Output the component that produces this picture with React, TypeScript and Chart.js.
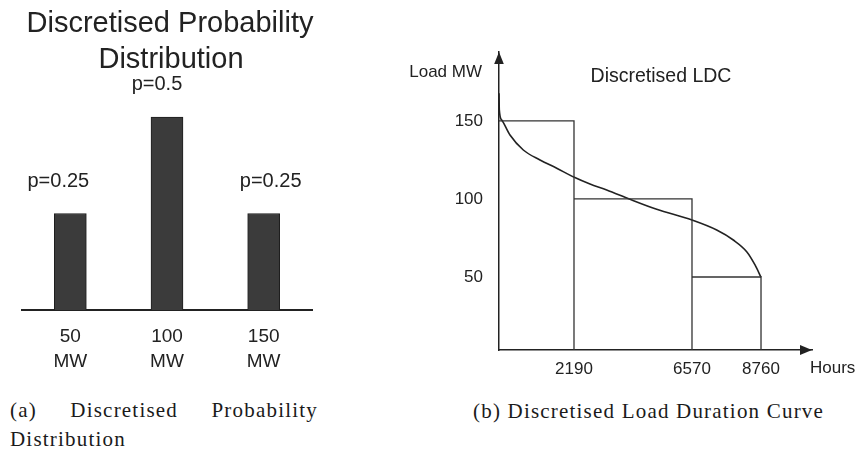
import React, { useEffect, useRef } from 'react';
import { Chart, registerables, LinearScale } from 'chart.js';

// ---------- data: (a) discretised probability distribution ----------
const PROB_CATEGORIES = [['50', 'MW'], ['100', 'MW'], ['150', 'MW']];
const PROB_VALUES = [0.25, 0.5, 0.25];
const PROB_LABELS = ['p=0.25', 'p=0.5', 'p=0.25'];

// ---------- data: (b) discretised load duration curve ----------
const STEP_HOURS = [0, 2190, 6570, 8760];
const STEP_LOADS = [150, 100, 50];
const CURVE_HOURS = [0, 9, 79, 321, 710, 1197, 1685, 2201, 2784, 3404, 4269, 5260, 6570, 7354, 7881, 8306, 8570, 8760];
const CURVE_LOADS = [167.8, 157.1, 150.6, 141.0, 131.4, 125.0, 119.7, 113.9, 109.6, 105.8, 99.8, 93.4, 86.5, 80.1, 73.7, 66.2, 57.7, 49.8];
const HOUR_TICKS = [2190, 6570, 8760];
const LOAD_TICKS = [50, 100, 150];

// the hours axis of the sketch is not drawn to scale: piecewise mapping hours -> axis fraction
const AXIS_HOURS = [0, 2190, 6570, 8760, 10400];
const AXIS_FRACTIONS = [0, 0.2396, 0.6166, 0.8371, 1];

function hoursToFraction(h: number): number {
  const n = AXIS_HOURS.length;
  for (let i = 1; i < n; i++) {
    if (h <= AXIS_HOURS[i] || i === n - 1) {
      const t = (h - AXIS_HOURS[i - 1]) / (AXIS_HOURS[i] - AXIS_HOURS[i - 1]);
      return AXIS_FRACTIONS[i - 1] + t * (AXIS_FRACTIONS[i] - AXIS_FRACTIONS[i - 1]);
    }
  }
  return 0;
}
function fractionToHours(f: number): number {
  const n = AXIS_FRACTIONS.length;
  for (let i = 1; i < n; i++) {
    if (f <= AXIS_FRACTIONS[i] || i === n - 1) {
      const t = (f - AXIS_FRACTIONS[i - 1]) / (AXIS_FRACTIONS[i] - AXIS_FRACTIONS[i - 1]);
      return AXIS_HOURS[i - 1] + t * (AXIS_HOURS[i] - AXIS_HOURS[i - 1]);
    }
  }
  return 0;
}

class PiecewiseScale extends LinearScale {
  static id = 'piecewise';
  static defaults = (LinearScale as any).defaults;
  getPixelForValue(value: number) {
    if (value === null || value === undefined || isNaN(value)) return NaN;
    return this.getPixelForDecimal(hoursToFraction(value));
  }
  getValueForPixel(pixel: number) {
    return fractionToHours(this.getDecimalForPixel(pixel));
  }
}

Chart.register(...registerables, PiecewiseScale as any);

const SANS = '"Liberation Sans", Arial, Helvetica, sans-serif';
const INK = '#222222';
const LABEL_SHIFT = [-12, -10, 7];

const noScalePadding = (s: any) => {
  s.paddingTop = 0;
  s.paddingBottom = 0;
  s.paddingLeft = 0;
  s.paddingRight = 0;
};

const leftDecor = {
  id: 'leftDecor',
  afterDatasetsDraw(chart: any) {
    const ctx = chart.ctx as CanvasRenderingContext2D;
    ctx.save();
    ctx.fillStyle = INK;
    ctx.textAlign = 'center';
    ctx.textBaseline = 'alphabetic';
    ctx.font = `29px ${SANS}`;
    ctx.fillText('Discretised Probability', 170, 32);
    ctx.fillText('Distribution', 171, 68);
    ctx.font = `20px ${SANS}`;
    const meta = chart.getDatasetMeta(0);
    meta.data.forEach((bar: any, i: number) => {
      ctx.fillText(PROB_LABELS[i], bar.x + LABEL_SHIFT[i], bar.y - 27);
    });
    ctx.restore();
  },
};

const rightDecor = {
  id: 'rightDecor',
  afterDraw(chart: any) {
    const ctx = chart.ctx as CanvasRenderingContext2D;
    const a = chart.chartArea;
    ctx.save();
    ctx.fillStyle = INK;
    // arrow heads
    ctx.beginPath();
    ctx.moveTo(a.left, a.top);
    ctx.lineTo(a.left - 4.8, a.top + 12);
    ctx.lineTo(a.left + 4.8, a.top + 12);
    ctx.closePath();
    ctx.fill();
    ctx.beginPath();
    ctx.moveTo(a.right, a.bottom);
    ctx.lineTo(a.right - 12, a.bottom - 5);
    ctx.lineTo(a.right - 12, a.bottom + 5);
    ctx.closePath();
    ctx.fill();
    // texts
    ctx.textBaseline = 'alphabetic';
    ctx.font = `17px ${SANS}`;
    ctx.textAlign = 'right';
    ctx.fillText('Load MW', a.left - 17, a.top + 25);
    ctx.textAlign = 'left';
    ctx.fillText('Hours', a.right - 2, a.bottom + 23);
    ctx.textAlign = 'center';
    ctx.font = `19.5px ${SANS}`;
    ctx.fillText('Discretised LDC', a.left + 162, a.top + 30);
    ctx.restore();
  },
};

export default function App() {
  const leftRef = useRef<HTMLCanvasElement>(null);
  const rightRef = useRef<HTMLCanvasElement>(null);

  useEffect(() => {
    const left = new Chart(leftRef.current as HTMLCanvasElement, {
      type: 'bar',
      data: {
        labels: PROB_CATEGORIES,
        datasets: [
          {
            data: PROB_VALUES,
            backgroundColor: '#3b3b3b',
            borderColor: '#1e1e1e',
            borderWidth: 1,
            barThickness: 32,
          },
        ],
      },
      options: {
        responsive: false,
        animation: false,
        events: [],
        layout: { padding: { left: 22, right: 18, top: 80, bottom: 0 } },
        plugins: { legend: { display: false }, tooltip: { enabled: false }, title: { display: false } },
        scales: {
          x: {
            grid: { display: false, drawTicks: false },
            border: { display: true, color: INK, width: 2 },
            ticks: {
              color: INK,
              padding: 14,
              font: { family: SANS, size: 19, lineHeight: 1.32 },
              maxRotation: 0,
            },
            afterFit: (s: any) => {
              s.height = 70;
              noScalePadding(s);
            },
          },
          y: { display: false, min: 0, max: 0.596 },
        },
      },
      plugins: [leftDecor],
    } as any);

    const stepPath: { x: number; y: number }[] = [];
    for (let i = 0; i < STEP_LOADS.length; i++) {
      stepPath.push({ x: STEP_HOURS[i], y: STEP_LOADS[i] });
      stepPath.push({ x: STEP_HOURS[i + 1], y: STEP_LOADS[i] });
      stepPath.push({ x: STEP_HOURS[i + 1], y: 0 });
    }
    const curve = CURVE_HOURS.map((h, i) => ({ x: h, y: CURVE_LOADS[i] }));

    const right = new Chart(rightRef.current as HTMLCanvasElement, {
      type: 'line',
      data: {
        datasets: [
          {
            data: stepPath,
            borderColor: '#333333',
            borderWidth: 1.3,
            pointRadius: 0,
            tension: 0,
            fill: false,
          },
          {
            data: curve,
            borderColor: INK,
            borderWidth: 1.6,
            pointRadius: 0,
            cubicInterpolationMode: 'monotone',
            fill: false,
          },
        ],
      },
      options: {
        responsive: false,
        animation: false,
        events: [],
        layout: { padding: { left: 0, right: 46, top: 12, bottom: 0 } },
        plugins: { legend: { display: false }, tooltip: { enabled: false } },
        scales: {
          x: {
            type: 'piecewise',
            min: 0,
            max: 10400,
            bounds: 'data',
            grid: { display: false, drawTicks: false },
            border: { display: true, color: INK, width: 1.5 },
            afterBuildTicks: (s: any) => {
              s.ticks = HOUR_TICKS.map((v) => ({ value: v }));
            },
            ticks: {
              color: INK,
              padding: 9,
              font: { family: SANS, size: 17 },
              maxRotation: 0,
              autoSkip: false,
              callback: (v: any) => String(v),
            },
            afterFit: (s: any) => {
              s.height = 35;
              noScalePadding(s);
            },
          },
          y: {
            type: 'linear',
            min: 3.2,
            max: 194.2,
            bounds: 'data',
            grid: { display: false, drawTicks: false },
            border: { display: true, color: INK, width: 1.5 },
            afterBuildTicks: (s: any) => {
              s.ticks = LOAD_TICKS.map((v) => ({ value: v }));
            },
            ticks: {
              color: INK,
              padding: 16,
              font: { family: SANS, size: 17 },
              autoSkip: false,
              callback: (v: any) => String(v),
            },
            afterFit: (s: any) => {
              s.width = 99;
              noScalePadding(s);
            },
          },
        },
      },
      plugins: [rightDecor],
    } as any);

    return () => {
      left.destroy();
      right.destroy();
    };
  }, []);

  const caption: React.CSSProperties = {
    position: 'absolute',
    fontFamily: '"Liberation Serif", "Times New Roman", serif',
    fontSize: 21,
    lineHeight: '29px',
    letterSpacing: '1.2px',
    color: '#1a1a1a',
    margin: 0,
    whiteSpace: 'normal',
  };

  return (
    <div
      style={{
        position: 'absolute',
        left: 0,
        top: 0,
        width: 858,
        height: 453,
        background: '#ffffff',
        overflow: 'hidden',
      }}
    >
      <canvas ref={leftRef} width={330} height={380} style={{ position: 'absolute', left: 0, top: 0 }} />
      <canvas ref={rightRef} width={458} height={345} style={{ position: 'absolute', left: 400, top: 40 }} />
      <div style={{ ...caption, left: 10, top: 396, width: 308, textAlign: 'justify' }}>
        (a) Discretised Probability Distribution
      </div>
      <div style={{ ...caption, left: 473, top: 397, whiteSpace: 'nowrap' }}>
        (b) Discretised Load Duration Curve
      </div>
    </div>
  );
}
